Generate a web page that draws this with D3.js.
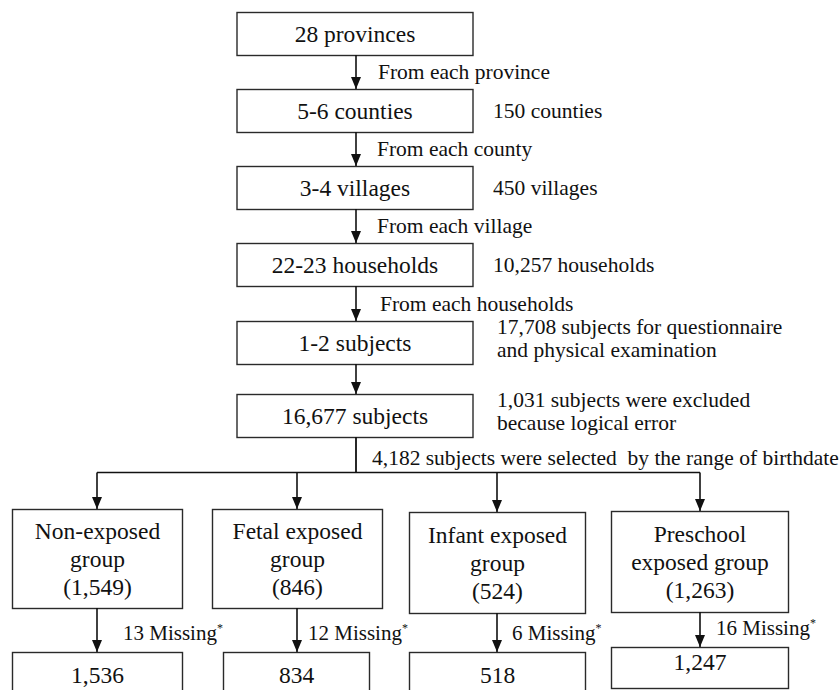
<!DOCTYPE html>
<html>
<head>
<meta charset="utf-8">
<script src="https://cdn.jsdelivr.net/npm/d3@7"></script>
<style>
  html, body { margin: 0; padding: 0; background: #fff; }
  svg { display: block; }
</style>
</head>
<body>
<svg id="chart" width="840" height="690"></svg>
<script>
// ---- data ----
const stageLabels = ["28 provinces", "5-6 counties", "3-4 villages", "22-23 households", "1-2 subjects", "16,677 subjects"];
const stepLabels = ["From each province", "From each county", "From each village", "From each households"];
const sideNotes = [[], ["150 counties"], ["450 villages"], ["10,257 households"],
  ["17,708 subjects for questionnaire", "and physical examination"],
  ["1,031 subjects were excluded", "because logical error"]];
const selectionNote = "4,182 subjects were selected  by the range of birthdate";
const groupNames = [["Non-exposed", "group"], ["Fetal exposed", "group"], ["Infant exposed", "group"], ["Preschool", "exposed group"]];
const groupCounts = ["1,549", "846", "524", "1,263"];
const missingCounts = ["13", "12", "6", "16"];
const finalCounts = ["1,536", "834", "518", "1,247"];

// ---- layout ----
const FONT = "'Liberation Serif'";
const svg = d3.select("#chart");
const stroke = "#2a2a2a";
const ink = "#111";
const boxFont = 23.5, noteFont = 21.5, missFont = 21;

function txt(sel) { return sel.style("font-family", FONT).attr("fill", ink); }

const defs = svg.append("defs");
defs.append("marker").attr("id", "arr").attr("viewBox", "0 0 10 12")
  .attr("refX", 5).attr("refY", 12).attr("markerWidth", 10).attr("markerHeight", 12)
  .attr("markerUnits", "userSpaceOnUse").attr("orient", "0")
  .append("path").attr("d", "M0,0 L10,0 L5,12 Z").attr("fill", ink);

const stageX = 237, stageW = 236, stageH = 43;
const stageTops = [12, 89, 166, 243, 321, 394];
const cx = stageX + stageW / 2 + 1;

const y = d3.scaleOrdinal().domain(d3.range(stageLabels.length)).range(stageTops);

const stages = svg.append("g").selectAll("g").data(stageLabels).join("g");
stages.append("rect")
  .attr("x", stageX).attr("y", (d, i) => y(i) + 0.5)
  .attr("width", stageW).attr("height", stageH)
  .attr("fill", "none").attr("stroke", stroke).attr("stroke-width", 1.4);
txt(stages.append("text"))
  .attr("x", stageX + stageW / 2).attr("y", (d, i) => y(i) + stageH / 2 + 8)
  .attr("text-anchor", "middle").attr("font-size", boxFont).text(d => d);

// arrows between stages
svg.append("g").selectAll("line").data(d3.range(stageLabels.length - 1)).join("line")
  .attr("x1", cx).attr("x2", cx)
  .attr("y1", i => y(i) + stageH).attr("y2", i => y(i + 1))
  .attr("stroke", ink).attr("stroke-width", 1.6)
  .attr("marker-end", "url(#arr)");

// step labels
txt(svg.append("g").selectAll("text").data(stepLabels).join("text"))
  .attr("x", (d, i) => i === 3 ? 380 : (i === 0 ? 378 : 377))
  .attr("y", (d, i) => (y(i) + stageH + y(i + 1)) / 2 + 7)
  .attr("font-size", noteFont).text(d => d);

// side notes
const notes = svg.append("g");
sideNotes.forEach((lines, i) => {
  const n = lines.length;
  lines.forEach((t, j) => {
    txt(notes.append("text"))
      .attr("x", n > 1 ? 497 : 493)
      .attr("y", n > 1 ? y(i) + 13 + j * 23 : y(i) + stageH / 2 + 7)
      .attr("font-size", noteFont).text(t);
  });
});

// branch
const branchY = 472.5;
const groupBoxes = [
  {x: 12, w: 170, top: 509, h: 99},
  {x: 212, w: 170, top: 509, h: 99},
  {x: 409, w: 176, top: 512, h: 101},
  {x: 611, w: 177, top: 511, h: 101}
];
const finalBoxes = [
  {x: 12, w: 170, top: 652, h: 60},
  {x: 223, w: 146, top: 652, h: 60},
  {x: 409, w: 176, top: 652, h: 60},
  {x: 611, w: 177, top: 647, h: 41}
];
const armX = [97, 297, 497, 700];

svg.append("line").attr("x1", cx).attr("x2", cx)
  .attr("y1", y(5) + stageH).attr("y2", branchY)
  .attr("stroke", ink).attr("stroke-width", 1.8);
svg.append("line").attr("x1", d3.min(armX)).attr("x2", d3.max(armX))
  .attr("y1", branchY).attr("y2", branchY)
  .attr("stroke", ink).attr("stroke-width", 1.6);
txt(svg.append("text")).attr("x", 372).attr("y", 465).attr("font-size", noteFont)
  .attr("xml:space", "preserve").style("white-space", "pre").text(selectionNote);

svg.append("g").selectAll("line").data(armX).join("line")
  .attr("x1", d => d).attr("x2", d => d)
  .attr("y1", branchY).attr("y2", (d, i) => groupBoxes[i].top)
  .attr("stroke", ink).attr("stroke-width", 1.6)
  .attr("marker-end", "url(#arr)");

// group boxes
const groups = svg.append("g").selectAll("g").data(groupNames).join("g");
groups.append("rect")
  .attr("x", (d, i) => groupBoxes[i].x + 0.5).attr("y", (d, i) => groupBoxes[i].top + 0.5)
  .attr("width", (d, i) => groupBoxes[i].w).attr("height", (d, i) => groupBoxes[i].h)
  .attr("fill", "none").attr("stroke", stroke).attr("stroke-width", 1.4);
groups.each(function(d, i) {
  const b = groupBoxes[i];
  const lines = [d[0], d[1], "(" + groupCounts[i] + ")"];
  const mid = b.top + b.h / 2;
  txt(d3.select(this).selectAll("text").data(lines).join("text"))
    .attr("x", b.x + b.w / 2 + 0.5)
    .attr("y", (t, j) => mid + (j - 1) * 28 + 8)
    .attr("text-anchor", "middle").attr("font-size", boxFont).text(t => t);
});

// arrows to final boxes
svg.append("g").selectAll("line").data(armX).join("line")
  .attr("x1", d => d).attr("x2", d => d)
  .attr("y1", (d, i) => groupBoxes[i].top + groupBoxes[i].h)
  .attr("y2", (d, i) => finalBoxes[i].top)
  .attr("stroke", ink).attr("stroke-width", 1.6)
  .attr("marker-end", "url(#arr)");

// missing labels
const missX = [123, 308, 512, 716];
const missY = [640, 640, 640, 635];
const miss = txt(svg.append("g").selectAll("text").data(missingCounts).join("text"))
  .attr("x", (d, i) => missX[i]).attr("y", (d, i) => missY[i]).attr("font-size", missFont);
miss.append("tspan").text(d => d + " Missing");
miss.append("tspan").attr("dy", -8).attr("font-size", 12).text("*");

// final boxes
const finals = svg.append("g").selectAll("g").data(finalCounts).join("g");
finals.append("rect")
  .attr("x", (d, i) => finalBoxes[i].x + 0.5).attr("y", (d, i) => finalBoxes[i].top + 0.5)
  .attr("width", (d, i) => finalBoxes[i].w).attr("height", (d, i) => finalBoxes[i].h)
  .attr("fill", "none").attr("stroke", stroke).attr("stroke-width", 1.4);
txt(finals.append("text"))
  .attr("x", (d, i) => finalBoxes[i].x + finalBoxes[i].w / 2 + 0.5)
  .attr("y", (d, i) => finalBoxes[i].top + (i === 3 ? 23 : 31))
  .attr("text-anchor", "middle").attr("font-size", boxFont).text(d => d);
</script>
</body>
</html>
